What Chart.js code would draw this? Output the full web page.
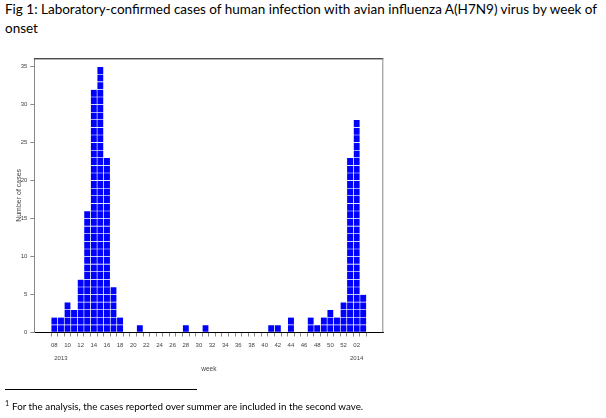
<!DOCTYPE html>
<html>
<head>
<meta charset="utf-8">
<script src="https://cdn.jsdelivr.net/npm/chart.js@4.4.0/dist/chart.umd.min.js"></script>
<style>
  html, body { margin: 0; padding: 0; background: #fff; }
  body { width: 606px; height: 418px; position: relative; overflow: hidden; font-family: Lato, "Open Sans", sans-serif; }
  #chart { position: absolute; left: 0; top: 0; }
  #title { position: absolute; left: 5px; top: 0px; font-size: 13.5px; line-height: 19px; color: #000; white-space: nowrap; }
  #rule { position: absolute; left: 5px; top: 389px; width: 192px; border-top: 1px solid #000; }
  #note { position: absolute; left: 5px; top: 399px; font-size: 9.8px; color: #000; white-space: nowrap; }
  #note sup { font-size: 7px; margin-right: 3px; }
</style>
</head>
<body>
<div id="title">Fig 1: Laboratory-confirmed cases of human infection with avian influenza A(H7N9) virus by week of<br>onset</div>
<canvas id="chart" width="606" height="418"></canvas>
<div id="rule"></div>
<div id="note"><sup>1</sup>For the analysis, the cases reported over summer are included in the second wave.</div>
<script>
// week of onset, Feb 2013 to Jan 2014
const weeks = ['08','09','10','11','12','13','14','15','16','17','18','19','20','21','22','23','24','25','26','27',
  '28','29','30','31','32','33','34','35','36','37','38','39','40','41','42','43','44','45','46','47',
  '48','49','50','51','52','01','02','03'];
const cases = [2,2,4,3,7,16,32,35,23,6,2,0,0,1,0,0,0,0,0,0,
  1,0,0,1,0,0,0,0,0,0,0,0,0,1,1,0,2,0,0,2,
  1,2,3,2,4,23,28,5];
const yearMarks = { '09': '2013', '02': '2014' };
const yTicks = [0, 5, 10, 15, 20, 25, 30, 35];

// one stacked layer per case so every case shows as its own square
const maxCases = Math.max(...cases);
const layers = [];
for (let k = 1; k <= maxCases; k++) {
  layers.push({
    data: cases.flatMap((c, i) => c >= k ? [{ x: i, y: 1 }] : []),
    backgroundColor: '#0000ff',
    borderColor: 'rgba(255,255,255,0.8)',
    borderWidth: 0.3,
    borderSkipped: false,
    inflateAmount: 0,
    barPercentage: 1,
    categoryPercentage: 1
  });
}

// top and right edges of the plot box
const frame = {
  id: 'frame',
  afterDraw(chart) {
    const { ctx, chartArea: a } = chart;
    ctx.save();
    ctx.lineWidth = 1;
    ctx.strokeStyle = '#000';
    ctx.beginPath();
    ctx.moveTo(a.left, a.top + 0.5);
    ctx.lineTo(a.right, a.top + 0.5);
    ctx.stroke();
    ctx.strokeStyle = '#888';
    ctx.beginPath();
    ctx.moveTo(a.right - 0.5, a.top);
    ctx.lineTo(a.right - 0.5, a.bottom);
    ctx.stroke();
    ctx.restore();
  }
};

const small = { family: '"Liberation Sans", Arial, sans-serif', size: 6 };

new Chart(document.getElementById('chart').getContext('2d'), {
  type: 'bar',
  data: { datasets: layers },
  plugins: [frame],
  options: {
    responsive: false,
    animation: false,
    layout: { padding: { left: 0, top: 58.3, right: 222.7, bottom: 38 } },
    plugins: { legend: { display: false }, tooltip: { enabled: false } },
    scales: {
      x: {
        type: 'linear',
        stacked: true,
        min: -2.5,
        max: 49.5,
        afterBuildTicks: axis => { axis.ticks = weeks.map((w, i) => ({ value: i })); },
        afterFit: axis => { axis.height = 47.5; },
        grid: { drawOnChartArea: false, tickLength: 4, color: '#888' },
        border: { color: '#000', width: 1 },
        ticks: {
          autoSkip: false,
          maxRotation: 0,
          padding: 1.6,
          color: '#444',
          font: { ...small, lineHeight: 2.3 },
          callback: v => {
            const w = weeks[v];
            const lab = parseInt(w, 10) % 2 === 0 ? w : '';
            return yearMarks[w] ? [lab, yearMarks[w]] : lab;
          }
        },
        title: { display: true, text: 'week', color: '#444', font: { ...small, size: 6.5 }, padding: { top: 0, bottom: 6.5 } }
      },
      y: {
        stacked: true,
        min: 0,
        max: 36.1,
        afterBuildTicks: axis => { axis.ticks = yTicks.map(v => ({ value: v })); },
        afterFit: axis => { axis.width = 34.3; },
        grid: { drawOnChartArea: false, tickLength: 4, color: '#888' },
        border: { color: '#888', width: 1 },
        ticks: { padding: 3, color: '#444', font: small },
        title: { display: true, text: 'Number of cases', color: '#444', font: { ...small, size: 7 }, padding: { top: 15, bottom: 0 } }
      }
    }
  }
});
</script>
</body>
</html>
